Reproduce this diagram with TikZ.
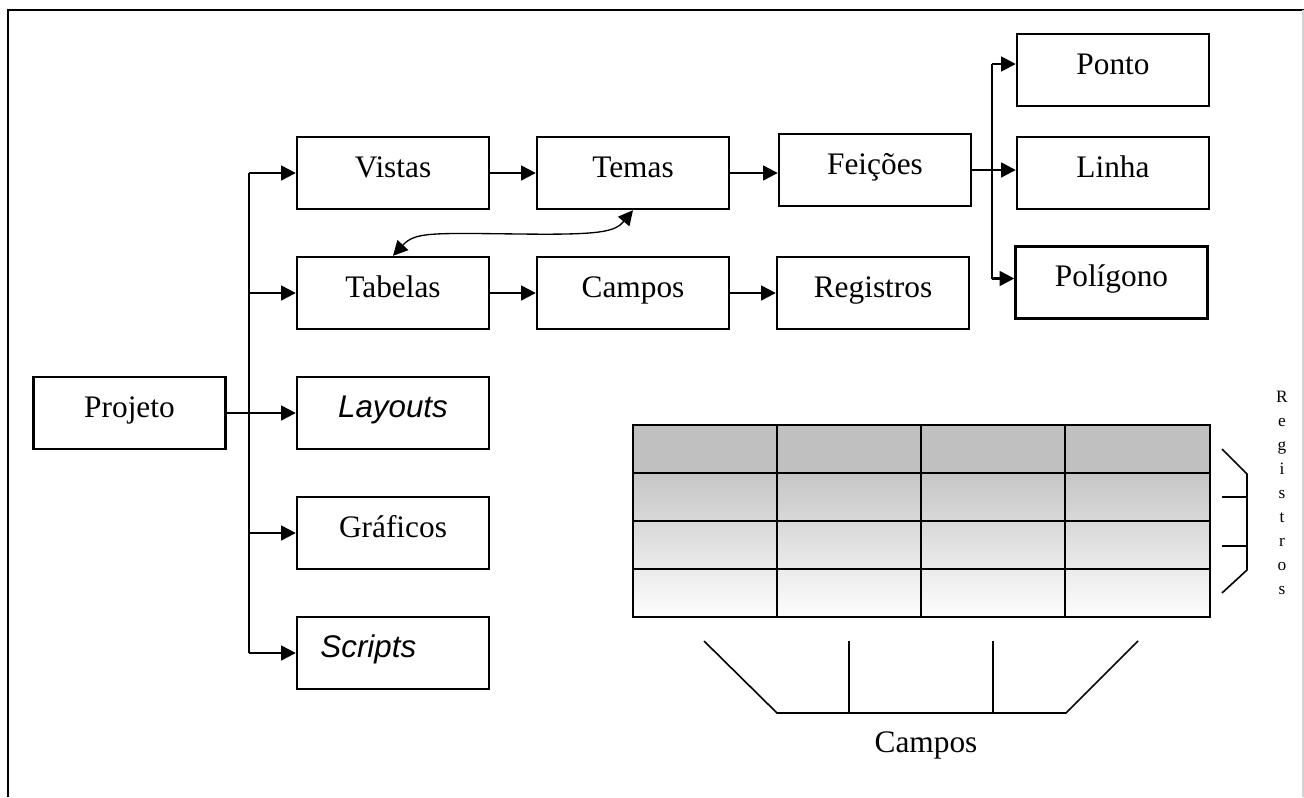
\documentclass[tikz,border=0pt]{standalone}
\usepackage{fontspec}
\setmainfont{Liberation Serif}
\setsansfont{Liberation Sans}
\usetikzlibrary{arrows.meta}
\tikzset{>={Triangle[length=11pt,width=11pt]}}
\tikzset{
  caixa/.style={draw, line width=1.8pt, minimum width=144pt, minimum height=54pt,
    inner sep=0pt, text height=16pt, text depth=10pt, font=\fontsize{23.5}{28}\selectfont},
  liga/.style={->, line width=1.8pt},
  chave/.style={line width=1.2pt},
}
\definecolor{cinzaTopo}{RGB}{192,192,192}
\definecolor{cinzaMeio}{RGB}{198,198,198}
\definecolor{cinzaFim}{RGB}{253,253,253}

\begin{document}
\begin{tikzpicture}[x=0.75pt,y=-0.75pt]
    \useasboundingbox (0,0) rectangle (1304,797);
    % moldura
    \draw[line width=2pt] (8,797) -- (8,10) -- (1304,10);
    \draw[gray!35, line width=0.8pt] (1303,10) -- (1303,797);

    \node[caixa] (projeto) at (129.5,413) {Projeto};
    \node[caixa] (vistas) at (393,173) {Vistas};
    \node[caixa] (tabelas) at (393,293) {Tabelas};
    \node[caixa] (layouts) at (393,413) {\sffamily\itshape Layouts};
    \node[caixa] (graficos) at (393,533) {Gráficos};
    \node[caixa] (scripts) at (393,653) {\sffamily\itshape Scripts\hspace*{37pt}};
    \node[caixa] (temas) at (633,173) {Temas};
    \node[caixa] (campos) at (633,293) {Campos};
    \node[caixa] (feicoes) at (875,170) {Feições};
    \node[caixa] (registros) at (873,293) {Registros};
    \node[caixa] (ponto) at (1113,70) {Ponto};
    \node[caixa] (linha) at (1113,173) {Linha};
    \node[caixa] (poligono) at (1111.5,282.5) {Polígono};

    % ramos a partir do projeto
    \coordinate (ramo) at (249,173);
    \draw[line width=1.8pt] (ramo) -- (ramo |- scripts.west);
    \draw[liga] (projeto.east) -- (layouts.west);
    \foreach \n in {vistas,tabelas,graficos,scripts}
      \draw[liga] (ramo |- \n.west) -- (\n.west);
    \draw[liga] (vistas.east) -- (temas.west);
    \draw[liga] (tabelas.east) -- (campos.west);
    \draw[liga] (temas.east) -- (temas.east -| feicoes.west);
    \draw[liga] (campos.east) -- (registros.west);
    \draw[<->, line width=1pt] (tabelas.north) .. controls (415,232) and (430,233) .. (520,234)
      .. controls (600,235) and (615,232) .. (temas.south);

    % feicoes
    \coordinate (ramoF) at (992,170);
    \draw[line width=1.8pt] ([yshift=4.5pt]ramoF |- ponto.west) -- ([yshift=3pt]ramoF |- poligono.west);
    \draw[liga] (feicoes.east) -- (feicoes.east -| linha.west);
    \draw[liga] ([yshift=4.5pt]ramoF |- ponto.west) -- ([yshift=4.5pt]ponto.west);
    \draw[liga] ([yshift=3pt]ramoF |- poligono.west) -- ([yshift=3pt]poligono.west);

    % tabela
    \fill[cinzaTopo] (633,425) rectangle (1210,473);
    \shade[top color=cinzaMeio, bottom color=cinzaFim] (633,473) rectangle (1210,617);
    \draw[line width=1.8pt] (633,425) rectangle (1210,617);
    \foreach \x in {777,921,1065}
      \draw[line width=1.8pt] (\x,425) -- (\x,617);
    \foreach \y in {473,521,569}
      \draw[line width=1.8pt] (633,\y) -- (1210,\y);

    % chaves
    \draw[chave] (1222,449) -- (1247,474) -- (1247,570) -- (1222,593);
    \draw[chave] (1222,497) -- (1247,497);
    \draw[chave] (1222,546) -- (1247,546);
    \node[anchor=north, inner sep=0pt, align=center, font=\fontsize{13}{18}\selectfont]
      (regtxt) at (1282,391) {R\\e\\g\\i\\s\\t\\r\\o\\s};
    \draw[chave] (704,641) -- (777,713) -- (1066,713) -- (1138,641);
    \draw[chave] (849,641) -- (849,713);
    \draw[chave] (993,641) -- (993,713);
    \node[font=\fontsize{23.5}{28}\selectfont] (camptxt) at (926,745) {Campos};
\end{tikzpicture}
\end{document}
